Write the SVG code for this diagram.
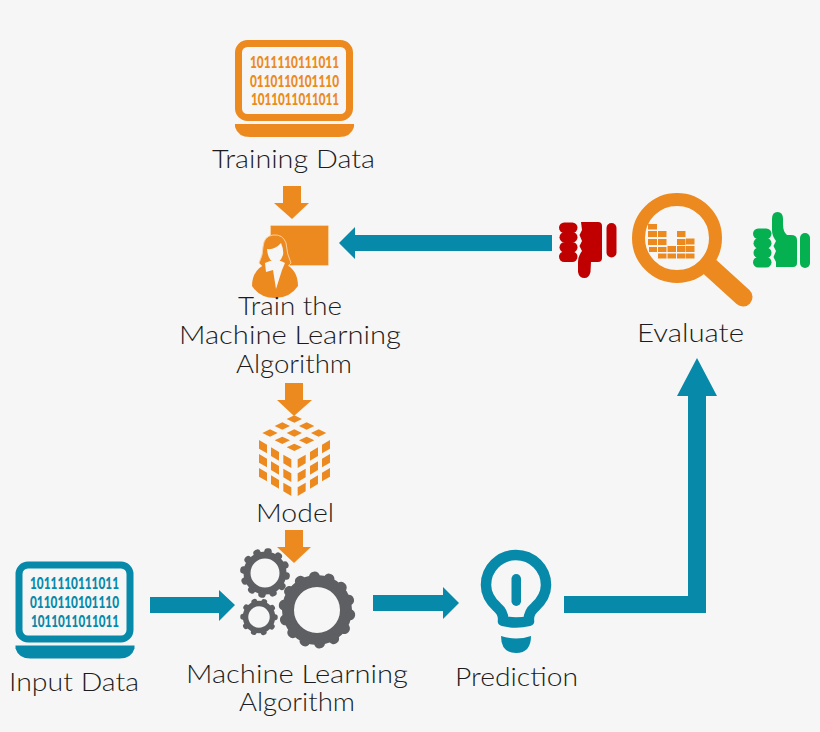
<svg xmlns="http://www.w3.org/2000/svg" width="820" height="732" viewBox="0 0 820 732">
<style>
.l{font-family:"Lato","Open Sans","Liberation Sans",sans-serif;font-size:24.5px;fill:#1c1c20;font-weight:300}
.b{font-family:"Lato","Liberation Sans",sans-serif;font-size:16px;font-weight:900}
.o{fill:#ec8a20}.t{fill:#0789a9}.bg{fill:#f6f6f6}
.gr{fill:none;stroke:#5e5f62}
.ot{fill:#ec8a20}.tt{fill:#0789a9}
</style>
<defs>
<g id="laptop">
<rect x="3.500" y="3.500" width="111" height="74" rx="9" fill="none" stroke="currentColor" stroke-width="7"/>
<path d="M0 84H119V87Q116 97 104 97H15Q3 97 0 87Z" fill="currentColor"/>
</g>
<path id="cell" d="M0 0L24 14V40L0 26Z"/>
<path id="dia" d="M0 -11L23 0L0 11L-23 0Z"/>
</defs>
<rect width="820" height="732" class="bg"/>
<g id="connectors">
<path class="o" d="M283 186H301V203H309L292 219L274 203H283Z"/>
<path class="o" d="M285 383H303V400H312L294 416L277 400H285Z"/>
<path class="o" d="M285 530H303V547H311L294 563L277 547H285Z"/>
<path class="t" d="M552 235V251H355V259L339 243L355 227V235Z"/>
<path class="t" d="M150 597H219V590L235 605L219 621V613H150Z"/>
<path class="t" d="M373 595H443V587L459 603L443 619V611H373Z"/>
<path class="t" d="M564 596H688V396H677L697 358L717 396H706V613H564Z"/>
</g>
<g id="training-data">
<use href="#laptop" x="235" y="40" color="#ec8a20"/>
<text class="b ot" x="250" y="68" textLength="89" lengthAdjust="spacingAndGlyphs">1011110111011</text>
<text class="b ot" x="250" y="87" textLength="89" lengthAdjust="spacingAndGlyphs">0110110101110</text>
<text class="b ot" x="251" y="105" textLength="88" lengthAdjust="spacingAndGlyphs">1011011011011</text>
<text class="l" x="212" y="167.500" textLength="163" lengthAdjust="spacingAndGlyphs">Training Data</text>
</g>
<g id="train">
<rect x="270.500" y="225.500" width="58" height="40" rx="1" fill="#ec8a20" stroke="#f8d0a0" stroke-width="1"/>
<path class="o" d="M273 235Q283 234 286 243Q287 255 291 263L286 268H264L259 263Q263 255 263 247Q264 236 273 235Z" stroke="#f8d0a0" stroke-width="1"/>
<path class="o" d="M252 286Q252 269 268 263H283Q298 269 298 286Q290 298 275 298Q260 298 252 286Z"/>
<path class="bg" d="M265 263L270 261H281L285 263L282 270L276 289L273 270L266 272Z"/>
<path class="bg" d="M267 249Q275 250 281 243Q284 250 283 255Q280 263 275 263Q268 261 267 249Z"/>
<text class="l" x="238" y="314.500" textLength="104" lengthAdjust="spacingAndGlyphs">Train the</text>
<text class="l" x="179" y="343.500" textLength="222" lengthAdjust="spacingAndGlyphs">Machine Learning</text>
<text class="l" x="236" y="372.500" textLength="116" lengthAdjust="spacingAndGlyphs">Algorithm</text>
</g>
<g id="model">
<g class="o" transform="translate(220 400) scale(.3333)">
<use href="#dia" x="223" y="57"/><use href="#dia" x="187" y="78"/><use href="#dia" x="260" y="78"/>
<use href="#dia" x="150" y="99"/><use href="#dia" x="223" y="99"/><use href="#dia" x="296" y="99"/>
<use href="#dia" x="187" y="121"/><use href="#dia" x="260" y="121"/><use href="#dia" x="223" y="142"/>
<use href="#cell" x="117" y="120"/><use href="#cell" x="117" y="162"/><use href="#cell" x="117" y="204"/>
<use href="#cell" x="153" y="142"/><use href="#cell" x="153" y="184"/><use href="#cell" x="153" y="226"/>
<use href="#cell" x="190" y="164"/><use href="#cell" x="190" y="206"/><use href="#cell" x="190" y="248"/>
<g transform="translate(447 0) scale(-1 1)">
<use href="#cell" x="117" y="120"/><use href="#cell" x="117" y="162"/><use href="#cell" x="117" y="204"/>
<use href="#cell" x="153" y="142"/><use href="#cell" x="153" y="184"/><use href="#cell" x="153" y="226"/>
<use href="#cell" x="190" y="164"/><use href="#cell" x="190" y="206"/><use href="#cell" x="190" y="248"/>
</g>
</g>
<text class="l" x="256" y="521.500" textLength="78" lengthAdjust="spacingAndGlyphs">Model</text>
</g>
<g id="ml-algorithm">
<circle class="gr" cx="265" cy="573" r="18" stroke-width="7"/>
<circle class="gr" cx="265" cy="573" r="21.500" stroke-width="7" stroke-linecap="round" pathLength="24" stroke-dasharray=".1 1.900" stroke-dashoffset="-.5"/>
<circle class="gr" cx="259" cy="617" r="13.500" stroke-width="5.500"/>
<circle class="gr" cx="259" cy="617" r="16" stroke-width="5.500" stroke-linecap="round" pathLength="20" stroke-dasharray=".1 1.900"/>
<circle class="gr" cx="317" cy="610" r="29" stroke-width="12"/>
<circle class="gr" cx="317" cy="610" r="33.500" stroke-width="10" stroke-linecap="round" pathLength="28" stroke-dasharray=".1 1.900" stroke-dashoffset="-.6"/>
<text class="l" x="186" y="683" textLength="222" lengthAdjust="spacingAndGlyphs">Machine Learning</text>
<text class="l" x="239" y="711" textLength="116" lengthAdjust="spacingAndGlyphs">Algorithm</text>
</g>
<g id="input-data">
<use href="#laptop" x="15.500" y="561.500" color="#0789a9"/>
<text class="b tt" x="30" y="589" textLength="89" lengthAdjust="spacingAndGlyphs">1011110111011</text>
<text class="b tt" x="30" y="608" textLength="89" lengthAdjust="spacingAndGlyphs">0110110101110</text>
<text class="b tt" x="31" y="627" textLength="88" lengthAdjust="spacingAndGlyphs">1011011011011</text>
<text class="l" x="9" y="691" textLength="130" lengthAdjust="spacingAndGlyphs">Input Data</text>
</g>
<g id="prediction">
<path d="M503 621Q504 613 497 607Q486 597 486 585A30 30 0 0 1 546 585Q546 597 535 607Q528 613 529 621Q516 624 503 621Z" fill="none" stroke="#0789a9" stroke-width="10.500" stroke-linejoin="round"/>
<rect x="511.500" y="574" width="9.500" height="32" rx="4.750" class="t"/>
<path class="t" d="M501 636Q516 641 531 636Q531 653 516 653Q501 653 501 636Z"/>
<text class="l" x="455" y="686" textLength="123" lengthAdjust="spacingAndGlyphs">Prediction</text>
</g>
<g id="evaluate">
<line x1="710" y1="267" x2="743" y2="297" stroke="#ec8a20" stroke-width="19" stroke-linecap="round"/>
<circle cx="677" cy="238" r="38.500" fill="#f6f6f6" stroke="#ec8a20" stroke-width="13"/>
<g class="o">
<rect x="648" y="224" width="9" height="5.500"/>
<rect x="648" y="231" width="9" height="6"/><rect x="648" y="239" width="9" height="6"/><rect x="649" y="247" width="8" height="5"/>
<rect x="658" y="231" width="8.500" height="6"/><rect x="658" y="239" width="8.500" height="6"/><rect x="658" y="247" width="8.500" height="5"/><rect x="658" y="253.500" width="8.500" height="5"/>
<rect x="667.500" y="246" width="8.500" height="6"/><rect x="667.500" y="253.500" width="8.500" height="5"/>
<rect x="677" y="231" width="8.500" height="6"/><rect x="677" y="239" width="8.500" height="6"/><rect x="677" y="246" width="8.500" height="6"/><rect x="677" y="253.500" width="8.500" height="5"/>
<rect x="686" y="238.500" width="8.500" height="6"/><rect x="686" y="246" width="8.500" height="6"/><rect x="686" y="253.500" width="8.500" height="5"/>
</g>
<text class="l" x="637" y="342" textLength="107" lengthAdjust="spacingAndGlyphs">Evaluate</text>
</g>
<g id="thumb-down" fill="#c00000">
<path d="M581 222H598Q602 222 602 226V258Q602 262 598 262H591L590.500 272Q589 278 584.500 278Q579 278 578 272V262Q578 256 582 251L579.500 246L582 241L579.500 235L582 230Z"/>
<rect x="559" y="222.500" width="18.500" height="10.500" rx="5.200"/><rect x="559.500" y="232" width="18" height="10.500" rx="5.200"/><rect x="559.500" y="242" width="18" height="10.500" rx="5.200"/><rect x="559" y="251.500" width="18.500" height="10.500" rx="5.200"/>
<rect x="606.500" y="223" width="10" height="34.500" rx="5"/>
</g>
<g id="thumb-up" fill="#04b050">
<path d="M776 267H793Q797 267 797 263V240Q797 235 791 235H787Q783 232 783 224V219Q783 212 777.500 212Q772 212 772 219V230Q772 236 776 241L773.500 246L776 251L773.500 257L776 262Z"/>
<rect x="753" y="228.500" width="18.500" height="10.500" rx="5.200"/><rect x="753.500" y="238" width="18" height="10.500" rx="5.200"/><rect x="753.500" y="247.500" width="18" height="10.500" rx="5.200"/><rect x="753" y="257" width="18.500" height="10.500" rx="5.200"/>
<rect x="800" y="233" width="10" height="35" rx="5"/>
</g>
</svg>
